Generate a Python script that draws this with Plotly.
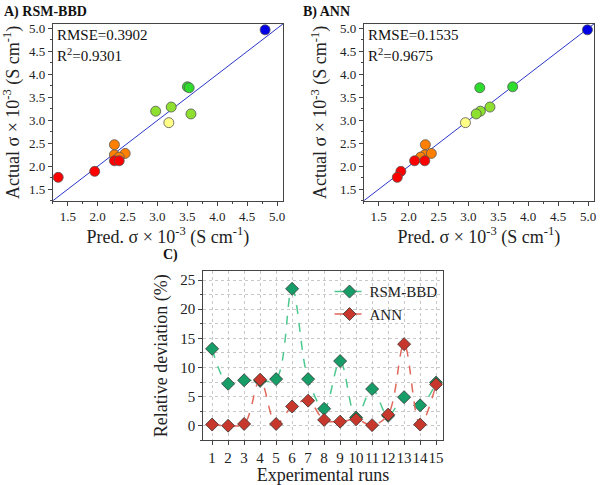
import plotly.graph_objects as go

# ---------------- data ----------------
rsm_pred   = [4.80, 3.50, 3.53, 3.23, 2.97, 3.56, 3.19, 2.28, 2.28, 2.46, 2.36, 2.28, 2.36, 1.95, 1.34]
rsm_actual = [4.97, 3.73, 3.71, 3.29, 3.20, 3.14, 2.95, 2.47, 2.25, 2.28, 2.20, 2.12, 2.12, 1.89, 1.76]

ann_pred   = [4.99, 3.74, 3.19, 3.36, 3.20, 3.13, 2.95, 2.28, 2.27, 2.38, 2.20, 2.10, 2.27, 1.87, 1.81]
ann_actual = [4.97, 3.73, 3.71, 3.29, 3.20, 3.14, 2.95, 2.47, 2.25, 2.28, 2.20, 2.12, 2.12, 1.89, 1.76]

rsm_rmse, rsm_r2 = "0.3902", "0.9301"
ann_rmse, ann_r2 = "0.1535", "0.9675"

runs = list(range(1, 16))
dev_rsm = [13.2, 7.2, 7.8, 7.7, 8.0, 23.5, 8.0, 2.9, 11.1, 1.4, 6.3, 1.7, 4.9, 3.5, 7.4]
dev_ann = [0.2, 0.0, 0.3, 7.9, 0.3, 3.3, 4.3, 1.0, 0.7, 1.1, 0.1, 1.9, 14.0, 0.2, 7.1]

# ---------------- style ----------------
FONT = "Liberation Serif"
AXC = "#444444"
SC_RANGE = [1.25, 5.1]
C_XRANGE = [0.45, 15.4]
C_YRANGE = [-2.5, 26.5]

colorscale = [
    [0.0, "#ff0000"], [0.186, "#ff0000"],
    [0.186, "#ff8000"], [0.314, "#ff8000"],
    [0.314, "#ffff88"], [0.443, "#ffff88"],
    [0.443, "#8ee030"], [0.571, "#8ee030"],
    [0.571, "#2edc2e"], [0.857, "#2edc2e"],
    [0.857, "#0000e6"], [1.0, "#0000e6"],
]

fig = go.Figure()

def scatter_panel(px, py, xa, ya):
    fig.add_trace(go.Scatter(
        x=SC_RANGE, y=SC_RANGE, mode="lines", xaxis=xa, yaxis=ya,
        line=dict(color="#2a35c8", width=1), showlegend=False, hoverinfo="skip"))
    fig.add_trace(go.Scatter(
        x=px, y=py, mode="markers", xaxis=xa, yaxis=ya, showlegend=False,
        marker=dict(size=10, color=py, colorscale=colorscale, cmin=1.5, cmax=5.0,
                    line=dict(color="#555555", width=0.8))))

scatter_panel(rsm_pred, rsm_actual, "x", "y")
scatter_panel(ann_pred, ann_actual, "x2", "y2")

fig.add_trace(go.Scatter(
    x=runs, y=dev_rsm, mode="lines+markers", name="RSM-BBD", xaxis="x3", yaxis="y3",
    line=dict(color="#4cc88e", width=1.5, dash="dash", shape="spline", smoothing=1.0),
    marker=dict(symbol="diamond", size=10, color="#179e68", line=dict(color="#333333", width=0.8))))
fig.add_trace(go.Scatter(
    x=runs, y=dev_ann, mode="lines+markers", name="ANN", xaxis="x3", yaxis="y3",
    line=dict(color="#e0685a", width=1.5, dash="dash", shape="spline", smoothing=1.0),
    marker=dict(symbol="diamond", size=10, color="#c8372b", line=dict(color="#333333", width=0.8))))

tickfont = dict(family=FONT, size=13, color="#222")
titlefont = dict(family=FONT, size=18, color="#222")

def sc_axis(domain, anchor, title, standoff):
    return dict(domain=domain, anchor=anchor, range=SC_RANGE, dtick=0.5, tick0=0,
                tickformat=".1f", ticks="outside", ticklen=4, tickcolor=AXC,
                showline=True, linecolor=AXC, linewidth=1, mirror=True,
                showgrid=False, zeroline=False, tickfont=tickfont,
                minor=dict(dtick=0.25, ticks="outside", ticklen=2, tickcolor=AXC),
                title=dict(text=title, font=titlefont, standoff=standoff))

xt = "Pred. σ × 10<sup>-3</sup> (S cm<sup>-1</sup>)"
yt = "Actual σ × 10<sup>-3</sup> (S cm<sup>-1</sup>)"

ydom = [1 - 199 / 485, 1 - 21 / 485]
fig.update_layout(
    xaxis=sc_axis([53 / 600, 284 / 600], "y", xt, 2),
    yaxis=sc_axis(ydom, "x", yt, 8),
    xaxis2=sc_axis([365 / 600, 596 / 600], "y2", xt, 2),
    yaxis2=sc_axis(ydom, "x2", yt, 8),
    xaxis3=dict(domain=[204 / 600, 444 / 600], anchor="y3", range=C_XRANGE, dtick=1, tick0=0,
                tickangle=0,
                ticks="outside", ticklen=4, tickcolor=AXC, showline=True, linecolor=AXC,
                linewidth=1, mirror=True, showgrid=True, gridcolor="#c8c8c8", griddash="dot",
                gridwidth=1, zeroline=False, tickfont=dict(family=FONT, size=15, color="#222"),
                title=dict(text="Experimental runs", font=titlefont, standoff=4)),
    yaxis3=dict(domain=[1 - 440 / 485, 1 - 270 / 485], anchor="x3", range=C_YRANGE, dtick=5, tick0=0,
                ticks="outside", ticklen=4, tickcolor=AXC, showline=True, linecolor=AXC,
                linewidth=1, mirror=True, showgrid=True, gridcolor="#c8c8c8", griddash="dot",
                gridwidth=1, zeroline=False, tickfont=dict(family=FONT, size=15, color="#222"),
                minor=dict(dtick=2.5, ticks="outside", ticklen=2, tickcolor=AXC, showgrid=True,
                           gridcolor="#c8c8c8", griddash="dot", gridwidth=1),
                title=dict(text="Relative deviation (%)", font=titlefont, standoff=8)),
    width=600, height=485, margin=dict(l=0, r=0, t=0, b=0),
    paper_bgcolor="white", plot_bgcolor="white",
    legend=dict(x=0.74, xanchor="right", y=1 - 274 / 485, yanchor="top",
                bgcolor="rgba(0,0,0,0)", font=dict(family=FONT, size=15, color="#222"),
                tracegroupgap=0),
)

def ann(text, x, y, xref="paper", yref="paper", size=13, bold=False):
    fig.add_annotation(text=f"<b>{text}</b>" if bold else text, x=x, y=y, xref=xref, yref=yref,
                       xanchor="left", yanchor="middle", showarrow=False,
                       font=dict(family=FONT, size=size, color="#111"))

ann("A) RSM-BBD", 0.003, 1 - 9 / 485, bold=True, size=14)
ann("B) ANN", 0.503, 1 - 9 / 485, bold=True, size=14)
ann("C)", 0.27, 1 - 254 / 485, bold=True, size=14)

for xa, rm, r2 in (("x", rsm_rmse, rsm_r2), ("x2", ann_rmse, ann_r2)):
    ya = "y" if xa == "x" else "y2"
    ann(f"RMSE={rm}", 0.01, 0.935, xref=f"{xa} domain", yref=f"{ya} domain", size=15)
    ann(f"R<sup>2</sup>={r2}", 0.01, 0.825, xref=f"{xa} domain", yref=f"{ya} domain", size=15)

fig.write_html("out.html")
